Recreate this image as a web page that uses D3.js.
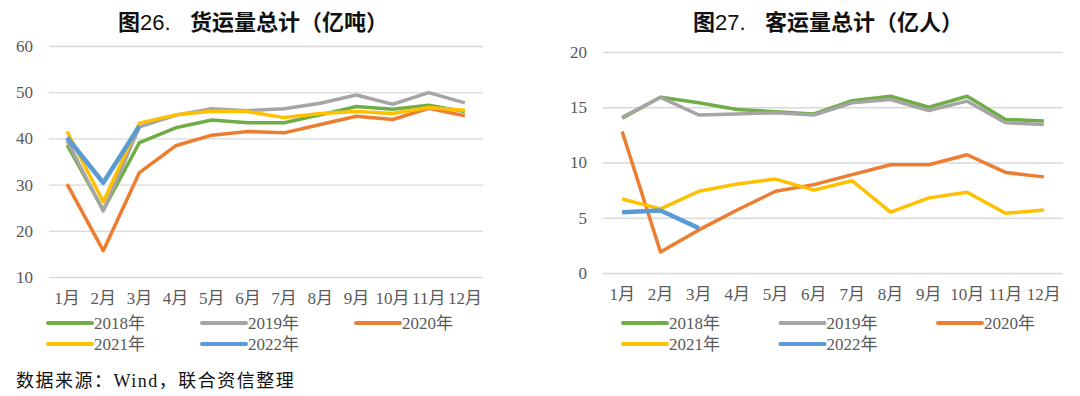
<!DOCTYPE html>
<html>
<head>
<meta charset="utf-8">
<script src="https://cdn.jsdelivr.net/npm/d3@7"></script>
<style>
  body { margin: 0; background: #fff; }
  svg text { font-family: "Liberation Serif", "Noto Sans CJK SC", serif; }
</style>
</head>
<body>
<div id="chart"></div>
<script>
// months on the x axis
const months = ["1月", "2月", "3月", "4月", "5月", "6月", "7月", "8月", "9月", "10月", "11月", "12月"];
const years = ["2018年", "2019年", "2020年", "2021年", "2022年"];
const colors = ["#70AD47", "#A5A5A5", "#ED7D31", "#FFC000", "#5B9BD5"];

// 货运量 (亿吨)
const freight2018 = [38.6, 24.5, 39.1, 42.3, 44.0, 43.4, 43.4, 45.1, 46.9, 46.3, 47.2, 45.8];
const freight2019 = [39.5, 24.3, 42.5, 45.0, 46.4, 46.0, 46.4, 47.6, 49.4, 47.4, 49.9, 47.7];
const freight2020 = [30.1, 15.7, 32.6, 38.4, 40.7, 41.5, 41.2, 43.0, 44.8, 44.1, 46.5, 44.9];
const freight2021 = [41.5, 26.3, 43.3, 45.1, 45.9, 45.8, 44.5, 45.4, 45.8, 45.4, 46.7, 46.1];
const freight2022 = [40.2, 30.4, 42.7];

// 客运量 (亿人)
const passenger2018 = [14.0, 15.9, 15.4, 14.8, 14.6, 14.4, 15.6, 16.0, 15.0, 16.0, 13.9, 13.75];
const passenger2019 = [14.1, 15.9, 14.3, 14.4, 14.5, 14.3, 15.4, 15.7, 14.7, 15.55, 13.6, 13.45];
const passenger2020 = [12.8, 1.9, 3.9, 5.7, 7.4, 8.0, 8.9, 9.8, 9.8, 10.7, 9.1, 8.7];
const passenger2021 = [6.7, 5.8, 7.4, 8.05, 8.5, 7.5, 8.35, 5.5, 6.8, 7.3, 5.4, 5.7];
const passenger2022 = [5.5, 5.65, 4.06];

const freightTicks = [10, 20, 30, 40, 50, 60];
const passengerTicks = [0, 5, 10, 15, 20];

const W = 1080, H = 396;
const svg = d3.select("#chart").append("svg")
    .attr("width", W)
    .attr("height", H);

//Draws one panel
const drawPanel = (opts) => {
    const g = svg.append("g");

    // title: "图NN." then the name after a gap
    const title = g.append("text")
        .attr("x", opts.titleX)
        .attr("y", 30)
        .attr("font-size", 22)
        .attr("fill", "#111");
    title.append("tspan")
        .style("font-family", "'Noto Sans CJK SC', sans-serif")
        .attr("font-weight", "bold")
        .text("图");
    title.append("tspan")
        .style("font-family", "'Liberation Sans', sans-serif")
        .text(opts.figNo);
    title.append("tspan")
        .attr("x", opts.titleX + 72)
        .style("font-family", "'Noto Sans CJK SC', sans-serif")
        .attr("font-weight", "bold")
        .text(opts.title);

    const x = d3.scaleBand()
        .domain(months)
        .range([opts.left, opts.right]);

    const y = d3.scaleLinear()
        .domain(opts.domain)
        .range([opts.bottom, opts.top]);

    // gridlines
    const yAxis = d3.axisLeft(y)
        .tickValues(opts.ticks)
        .tickSize(-(opts.right - opts.left))
        .tickPadding(16);
    const ya = g.append("g")
        .attr("transform", `translate(${opts.left},0)`)
        .call(yAxis);
    ya.select(".domain").remove();
    ya.selectAll("line").attr("stroke", "#D9D9D9").attr("stroke-width", 1.3);
    ya.selectAll("text")
        .attr("fill", "#595959")
        .attr("font-size", 17)
        .style("font-family", "'Liberation Serif', serif");

    // x axis labels
    const xAxis = d3.axisBottom(x).tickSize(0).tickPadding(15);
    const xa = g.append("g")
        .attr("transform", `translate(0,${opts.bottom})`)
        .call(xAxis);
    xa.select(".domain").remove();
    xa.selectAll("text")
        .attr("fill", "#595959")
        .attr("font-size", 17)
        .style("font-family", "'Liberation Serif', 'Noto Sans CJK SC', serif");

    const line = d3.line()
        .x((d, i) => x(months[i]) + x.bandwidth() / 2)
        .y(d => y(d));

    opts.series.forEach((s, i) => {
        g.append("path")
            .datum(s)
            .attr("fill", "none")
            .attr("stroke", colors[i])
            .attr("stroke-width", i === 4 ? 4.5 : 3.5)
            .attr("stroke-linejoin", "round")
            .attr("d", line);
    });

    // legend
    const legend = g.append("g");
    years.forEach((yr, i) => {
        const col = i % 3, row = Math.floor(i / 3);
        const lx = opts.legendX + col * opts.legendStep;
        const ly = 323 + row * 21;
        legend.append("line")
            .attr("x1", lx).attr("x2", lx + 44)
            .attr("y1", ly).attr("y2", ly)
            .attr("stroke", colors[i])
            .attr("stroke-width", 4)
            .attr("stroke-linecap", "round");
        legend.append("text")
            .attr("x", lx + 46)
            .attr("y", ly + 6)
            .attr("font-size", 17)
            .attr("fill", "#595959")
            .style("font-family", "'Liberation Serif', 'Noto Sans CJK SC', serif")
            .text(yr);
    });
};

drawPanel({
    figNo: "26.",
    title: "货运量总计（亿吨）",
    titleX: 118,
    left: 49, right: 483, top: 46, bottom: 277,
    domain: [10, 60],
    ticks: freightTicks,
    series: [freight2018, freight2019, freight2020, freight2021, freight2022],
    legendX: 48, legendStep: 154
});

drawPanel({
    figNo: "27.",
    title: "客运量总计（亿人）",
    titleX: 693,
    left: 603, right: 1063, top: 52, bottom: 273,
    domain: [0, 20],
    ticks: passengerTicks,
    series: [passenger2018, passenger2019, passenger2020, passenger2021, passenger2022],
    legendX: 623, legendStep: 157.5
});

// source note
svg.append("text")
    .attr("x", 16)
    .attr("y", 387)
    .attr("font-size", 18)
    .attr("letter-spacing", 1.5)
    .attr("fill", "#111")
    .style("font-family", "'Liberation Serif', 'Noto Sans CJK SC', serif")
    .text("数据来源：Wind，联合资信整理");
</script>
</body>
</html>
